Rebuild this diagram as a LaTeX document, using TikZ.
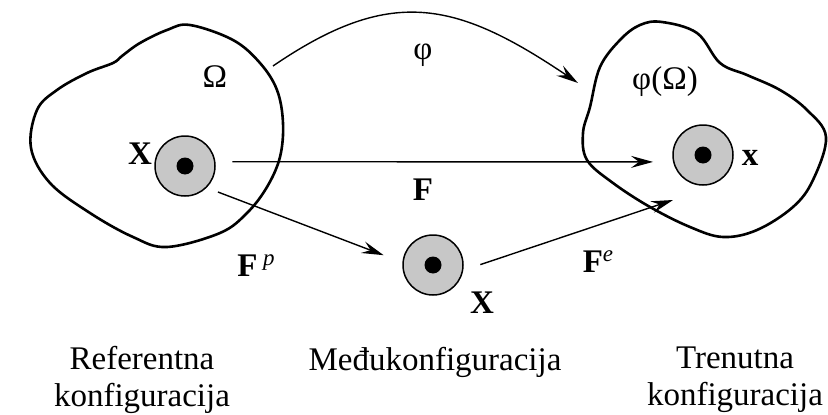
\documentclass[tikz,border=0pt]{standalone}
\usepackage{fontspec}
\setmainfont{Liberation Serif}
\usetikzlibrary{arrows.meta, positioning}
\definecolor{ringgray}{gray}{0.78}

\begin{document}
\begin{tikzpicture}[
    x=1pt, y=-1pt,
    region/.style={line width=2.6pt, line join=round},
    particle/.style={circle, draw, line width=1.5pt, fill=ringgray, minimum size=60pt, inner sep=0pt},
    arr/.style={-{Stealth[length=22pt, width=12pt, inset=8pt]}, line width=1.4pt},
    sym/.style={font=\fontsize{33}{38}\selectfont},
    caption/.style={font=\fontsize{33}{37}\selectfont, align=center}
]
\useasboundingbox (0,0) rectangle (828,415);

% Referentna konfiguracija
\draw[region] plot[smooth cycle, tension=0.6] coordinates {
    (190,25) (233,40) (260,63) (277,90) (283,123) (280,157) (267,187) (247,213)
    (220,233) (167,247) (133,237) (90,213) (50,183) (31,148) (37,110) (57,90)
    (87,73) (113,63) (122,56) (140,43) (167,30)};
\node[particle] (refpt) at (185,166) {};
\fill (refpt) circle (8.5);
\node[sym] (omega) at (215,77) {Ω};
\node[sym] (xref) at (140,154) {\textbf{X}};

% Trenutna konfiguracija
\draw[region] plot[smooth cycle, tension=0.6] coordinates {
    (662,22) (697,33) (720,63) (747,75) (780,90) (807,110) (826,137) (813,180)
    (793,207) (757,230) (723,237) (690,227) (650,207) (613,183) (587,160)
    (583,133) (590,107) (600,67) (620,40) (640,25)};
\node[particle] (curpt) at (703,155) {};
\fill (curpt) circle (8.5);
\node[sym] (phiomega) at (665,82) {φ(Ω)};
\node[sym] (xcur) at (750,158) {\textbf{x}};

% Medukonfiguracija
\node[particle] (midpt) at (433,265) {};
\fill (midpt) circle (8.5);
\node[sym] (xmid) at (482,303) {\textbf{X}};

% Preslikavanja
\coordinate (phistart) at (273,66);
\coordinate (phiend) at (578,83);
\coordinate (feend) at (673,200);
\draw[arr] (phistart) .. controls (390,-14) and (455,0) .. (phiend);
\node[sym] (phi) at (423,55) {φ};

\draw[arr, shorten <=17pt, shorten >=20pt] (refpt.8) -- (curpt.193);
\node[sym] (flab) at (423,190) {\textbf{F}};

\draw[arr, shorten <=12pt, shorten >=20pt] (refpt.-45) -- (midpt.175);
\node[sym] (fplab) at (256,266) {\textbf{F}\,\raisebox{11pt}{\fontsize{23}{23}\selectfont\itshape p}};

\draw[arr, shorten <=18pt] (midpt.-10) -- (feend);
\node[sym] (felab) at (598,262) {\textbf{F}\raisebox{11pt}{\fontsize{23}{23}\selectfont\itshape e}};

% Natpisi
\node[caption] (refcap) at (142,380) {Referentna\\konfiguracija};
\node[caption] (midcap) at (435,362) {Međukonfiguracija};
\node[caption] (curcap) at (735,380) {Trenutna\\konfiguracija};
\end{tikzpicture}
\end{document}
